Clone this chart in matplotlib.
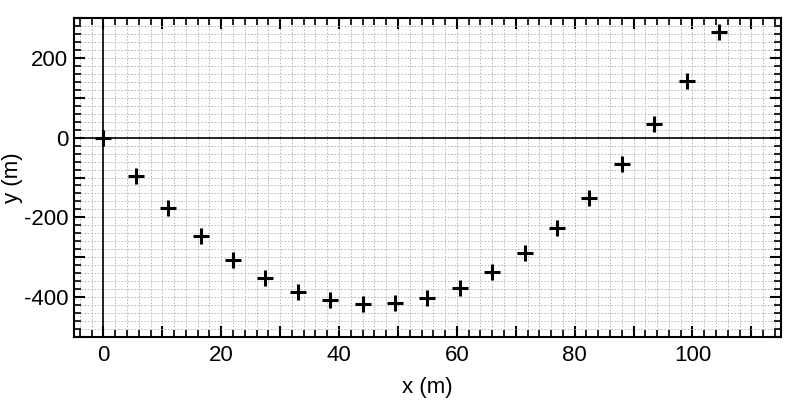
import matplotlib
matplotlib.use('Agg')
import matplotlib.pyplot as plt
from matplotlib.ticker import MultipleLocator, FuncFormatter

# Data
x_m = [0, 5.5, 11, 16.5, 22, 27.5, 33, 38.5, 44, 49.5,
       55, 60.5, 66, 71.5, 77, 82.5, 88, 93.5, 99, 104.5]
y_m = [0, -95, -176, -247, -306, -352, -386, -408, -416, -415,
       -402, -376, -337, -289, -226, -151, -65, 33, 143, 264]

plt.rcParams['font.family'] = ['Liberation Sans', 'DejaVu Sans']

fig = plt.figure(figsize=(8, 4), dpi=100)
ax = fig.add_axes([0.0925, 0.1575, 0.8835, 0.7975])

ax.axhline(0, color='black', linewidth=1.2, zorder=2)
ax.axvline(0, color='black', linewidth=1.2, zorder=2)
ax.plot(x_m, y_m, linestyle='none', marker='+', markersize=12,
        markeredgewidth=2.2, color='black', zorder=3)

ax.set_xlim(-5, 115)
ax.set_ylim(-500, 300)

ax.xaxis.set_major_locator(MultipleLocator(10))
ax.xaxis.set_minor_locator(MultipleLocator(2))
ax.yaxis.set_major_locator(MultipleLocator(100))
ax.yaxis.set_minor_locator(MultipleLocator(20))
ax.xaxis.set_major_formatter(FuncFormatter(lambda v, p: f'{v:.0f}' if round(v) % 20 == 0 else ''))
ax.yaxis.set_major_formatter(FuncFormatter(lambda v, p: f'{v:.0f}' if round(v) % 200 == 0 else ''))

ax.tick_params(which='both', direction='in', top=True, right=True, labelsize=16, color='black')
ax.tick_params(which='major', length=8, width=1.5)
ax.tick_params(axis='x', which='major', pad=6)
ax.tick_params(axis='y', which='major', pad=4)
ax.tick_params(which='minor', length=5, width=1.2)

ax.grid(which='both', color='#b0b0b0', linestyle=(0, (2, 2)), linewidth=0.6, zorder=0)
ax.set_axisbelow(True)
for s in ax.spines.values():
    s.set_linewidth(1.5)

ax.set_xlabel('x (m)', fontsize=16, labelpad=8)
ax.set_ylabel('y (m)', fontsize=16)
ax.yaxis.set_label_coords(-0.072, 0.5)

fig.savefig('out.png', dpi=100)
